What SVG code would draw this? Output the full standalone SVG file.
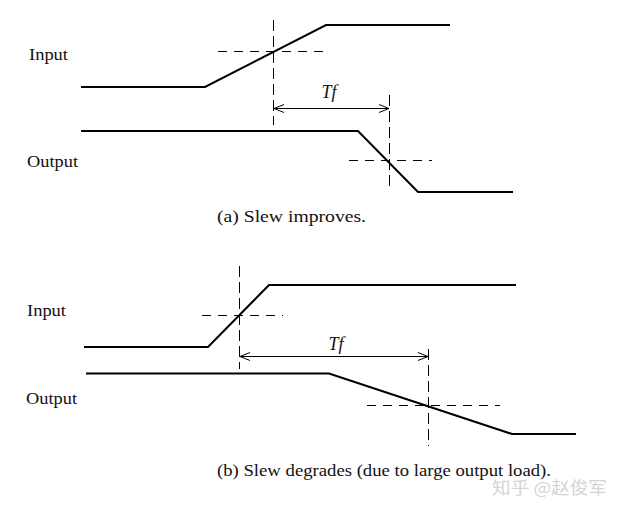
<svg xmlns="http://www.w3.org/2000/svg" width="624" height="514" viewBox="0 0 624 514">
<defs>
<style>
.sig{fill:none;stroke:#000;stroke-width:2;stroke-linejoin:miter}
.dash{fill:none;stroke:#000;stroke-width:1;stroke-dasharray:9 7}
.vdash{fill:none;stroke:#000;stroke-width:1;stroke-dasharray:11 5}
.arr{fill:none;stroke:#000;stroke-width:1}
.lbl{font-family:'Liberation Serif',serif;font-size:17px;fill:#111}
.tf{font-family:'Liberation Serif',serif;font-size:18px;font-style:italic;fill:#111}
.wm{font-family:'Noto Sans CJK SC','Noto Sans',sans-serif;font-size:17px;fill:#d4d4d4}
</style>
<marker id="ah" viewBox="0 0 10 10" refX="10" refY="5" markerWidth="10" markerHeight="10" markerUnits="userSpaceOnUse" orient="auto-start-reverse">
<path d="M0,1 L10,5 L0,9" fill="none" stroke="#000" stroke-width="1"/>
</marker>
</defs>
<rect width="624" height="514" fill="#fff"/>

<g id="panel-a">
<g id="a-input">
<text class="lbl" x="29" y="60" textLength="39" lengthAdjust="spacingAndGlyphs">Input</text>
<polyline class="sig" points="81,87 205,87 326,25 450,25"/>
</g>
<g id="a-output">
<text class="lbl" x="27" y="167" textLength="51" lengthAdjust="spacingAndGlyphs">Output</text>
<polyline class="sig" points="81,131 358,131 418,192 513,192"/>
</g>
<g id="a-connectors">
<line class="vdash" x1="273.5" y1="20" x2="273.5" y2="125"/>
<line class="dash" x1="218" y1="51.5" x2="325" y2="51.5"/>
<line class="vdash" x1="389.5" y1="95" x2="389.5" y2="186"/>
<line class="dash" x1="349" y1="160.5" x2="432" y2="160.5"/>
<line class="arr" x1="274" y1="108.5" x2="389" y2="108.5" marker-start="url(#ah)" marker-end="url(#ah)"/>
<text class="tf" x="329" y="98" text-anchor="middle">Tf</text>
</g>
<text class="lbl" x="217" y="222" textLength="149" lengthAdjust="spacingAndGlyphs">(a) Slew improves.</text>
</g>

<g id="panel-b">
<g id="b-input">
<text class="lbl" x="27" y="316" textLength="39" lengthAdjust="spacingAndGlyphs">Input</text>
<polyline class="sig" points="84,347 208,347 269,285 516,285"/>
</g>
<g id="b-output">
<text class="lbl" x="26" y="404" textLength="51" lengthAdjust="spacingAndGlyphs">Output</text>
<polyline class="sig" points="86,373.5 329,373.5 512,434 576,434"/>
</g>
<g id="b-connectors">
<line class="vdash" x1="239.5" y1="266" x2="239.5" y2="369"/>
<line class="dash" x1="202" y1="315.5" x2="283" y2="315.5"/>
<line class="vdash" x1="428.5" y1="349" x2="428.5" y2="446"/>
<line class="dash" x1="367" y1="405.5" x2="500" y2="405.5"/>
<line class="arr" x1="240" y1="356.5" x2="428" y2="356.5" marker-start="url(#ah)" marker-end="url(#ah)"/>
<text class="tf" x="336" y="350" text-anchor="middle">Tf</text>
</g>
<text class="lbl" x="217" y="476" textLength="334" lengthAdjust="spacingAndGlyphs">(b) Slew degrades (due to large output load).</text>
</g>

<text class="wm" x="492" y="494" textLength="115" lengthAdjust="spacingAndGlyphs">知乎 @赵俊军</text>
</svg>
